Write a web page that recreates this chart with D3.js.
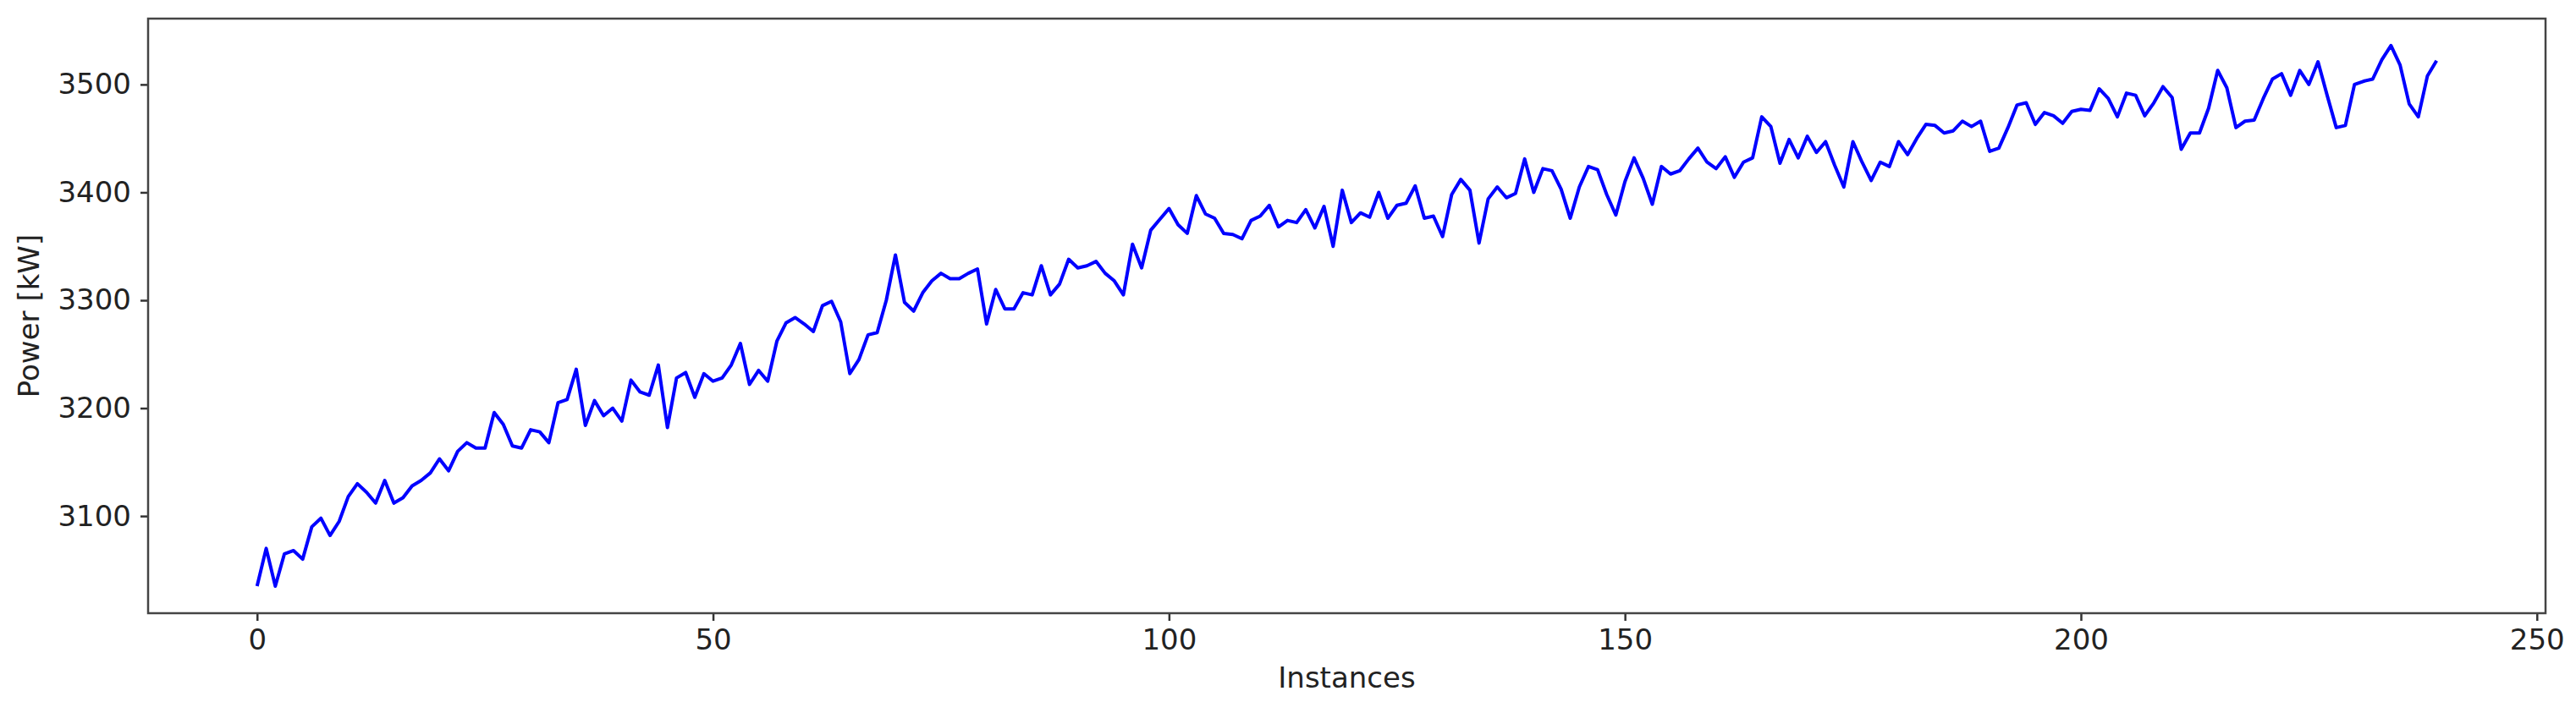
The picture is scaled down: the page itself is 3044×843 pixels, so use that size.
<!DOCTYPE html>
<html>
<head>
<meta charset="utf-8">
<script src="https://cdn.jsdelivr.net/npm/d3@7"></script>
<style>
  body { margin: 0; background: #fff; }
  text { font-family: "DejaVu Sans", sans-serif; }
</style>
</head>
<body>
<div id="myPlot"></div>
<script>
// data
const power = [
  3035, 3070, 3035, 3065, 3068, 3060, 3090, 3098, 3082, 3095,
  3118, 3130, 3122, 3112, 3133, 3112, 3117, 3128, 3133, 3140,
  3153, 3142, 3160, 3168, 3163, 3163, 3196, 3185, 3165, 3163,
  3180, 3178, 3168, 3205, 3208, 3236, 3184, 3207, 3193, 3200,
  3188, 3226, 3215, 3212, 3240, 3182, 3228, 3233, 3210, 3232,
  3225, 3228, 3240, 3260, 3222, 3235, 3225, 3262, 3279, 3284,
  3278, 3271, 3295, 3299, 3280, 3232, 3245, 3268, 3270, 3300,
  3342, 3298, 3290, 3307, 3318, 3325, 3320, 3320, 3325, 3329,
  3278, 3310, 3292, 3292, 3307, 3305, 3332, 3305, 3315, 3338,
  3330, 3332, 3336, 3325, 3318, 3305, 3352, 3330, 3365, 3375,
  3385, 3370, 3362, 3397, 3380, 3376, 3362, 3361, 3357, 3374,
  3378, 3388, 3368, 3374, 3372, 3384, 3367, 3387, 3350, 3402,
  3372, 3381, 3377, 3400, 3376, 3388, 3390, 3406, 3376, 3378,
  3359, 3398, 3412, 3402, 3353, 3394, 3405, 3395, 3399, 3431,
  3400, 3422, 3420, 3403, 3376, 3405, 3424, 3421, 3398, 3379,
  3410, 3432, 3413, 3389, 3424, 3417, 3420, 3431, 3441, 3428,
  3422, 3433, 3414, 3428, 3432, 3470, 3461, 3427, 3449, 3432,
  3452, 3437, 3447, 3425, 3405, 3447, 3428, 3411, 3428, 3424,
  3447, 3435, 3450, 3463, 3462, 3455, 3457, 3466, 3461, 3466,
  3438, 3441, 3460, 3481, 3483, 3463, 3474, 3471, 3464, 3475,
  3477, 3476, 3496, 3487, 3470, 3492, 3490, 3471, 3483, 3498,
  3488, 3440, 3455, 3455, 3478, 3513, 3497, 3460, 3466, 3467,
  3487, 3505, 3510, 3490, 3513, 3500, 3521, 3490, 3460, 3462,
  3500, 3503, 3505, 3523, 3536, 3518, 3482, 3470, 3508, 3522
];
const xTicks = [0, 50, 100, 150, 200, 250];
const yTicks = [3100, 3200, 3300, 3400, 3500];
const xLabel = "Instances";
const yLabel = "Power [kW]";

const W = 3044, H = 843;
const padL = 175, padR = 3008, padT = 22, padB = 725;

const svg = d3.select("#myPlot").append("svg")
  .attr("width", W).attr("height", H);

const n = power.length - 1;
const x = d3.scaleLinear()
  .domain([-0.05 * n, n * 1.05])
  .range([padL, padR]);

const ext = d3.extent(power);
const pad = (ext[1] - ext[0]) * 0.05;
const y = d3.scaleLinear()
  .domain([ext[0] - pad, ext[1] + pad])
  .range([padB, padT]);

// line
const line = d3.line()
  .x((d, i) => x(i))
  .y(d => y(d));

svg.append("path")
  .datum(power)
  .attr("fill", "none")
  .attr("stroke", "#0000ff")
  .attr("stroke-width", 4)
  .attr("stroke-linejoin", "round")
  .attr("d", line);

// axes
const xAxis = svg.append("g")
  .attr("transform", "translate(0," + padB + ")")
  .call(d3.axisBottom(x).tickValues(xTicks).tickSize(9).tickPadding(10));

const yAxis = svg.append("g")
  .attr("transform", "translate(" + padL + ",0)")
  .call(d3.axisLeft(y).tickValues(yTicks).tickSize(9).tickPadding(11).tickFormat(d3.format("d")));

[xAxis, yAxis].forEach(g => {
  g.select(".domain").remove();
  g.selectAll(".tick line").attr("stroke", "#333").attr("stroke-width", 2.5);
  g.selectAll(".tick text").attr("font-size", 34).attr("fill", "#222")
    .style("font-family", "DejaVu Sans, sans-serif");
});

// frame
svg.append("rect")
  .attr("x", padL).attr("y", padT)
  .attr("width", padR - padL).attr("height", padB - padT)
  .attr("fill", "none").attr("stroke", "#444").attr("stroke-width", 2.5);

svg.append("text")
  .attr("x", (padL + padR) / 2).attr("y", 813)
  .attr("text-anchor", "middle").attr("font-size", 34).attr("fill", "#222")
  .text(xLabel);

svg.append("text")
  .attr("transform", "translate(46," + (padT + padB) / 2 + ") rotate(-90)")
  .attr("text-anchor", "middle").attr("font-size", 34).attr("fill", "#222")
  .text(yLabel);
</script>
</body>
</html>
